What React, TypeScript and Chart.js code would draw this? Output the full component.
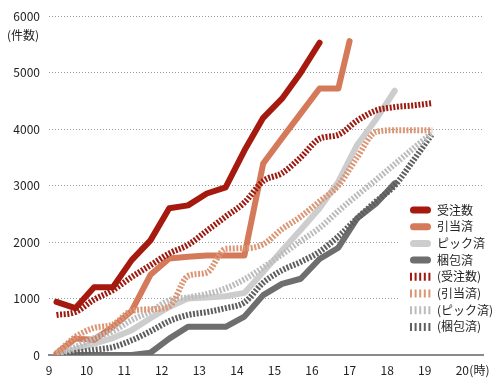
import React, { useEffect, useRef } from 'react';
import { Chart, registerables } from 'chart.js';

Chart.register(...registerables);

const FONT = "'Noto Sans CJK JP', 'Noto Sans', sans-serif";

// x axis ticks (hours) and y axis ticks (件数)
const hourTicks = [9, 10, 11, 12, 13, 14, 15, 16, 17, 18, 19, 20];
const countTicks = [0, 1000, 2000, 3000, 4000, 5000, 6000];
const yUnit = '(件数)';
const xUnit = '(時)';

// sample times (hours)
const halfHours = [9.2, 9.7, 10.2, 10.7, 11.2, 11.7, 12.2, 12.7, 13.2, 13.7, 14.2, 14.7, 15.2, 15.7, 16.2, 16.7, 17.2, 17.7, 18.2, 18.7, 19.2];
const hikiateTimes = [9.2, 9.7, 10.2, 10.7, 11.2, 11.7, 12.2, 12.7, 13.2, 13.7, 14.2, 14.7, 15.2, 15.7, 16.2, 16.7, 17.0];

// actual (solid) series
const juchuActual = [940, 830, 1200, 1200, 1680, 2030, 2600, 2650, 2860, 2970, 3620, 4200, 4540, 5000, 5530];
const hikiateActual = [30, 290, 270, 500, 780, 1420, 1710, 1740, 1760, 1760, 1760, 3390, 3840, 4280, 4720, 4720, 5560];
const pickActual = [20, 100, 200, 300, 440, 650, 850, 1000, 1020, 1040, 1100, 1470, 1850, 2220, 2600, 3070, 3720, 4170, 4680];
const konpoActual = [0, 0, 0, 0, 0, 40, 290, 500, 500, 500, 680, 1060, 1260, 1350, 1700, 1900, 2420, 2680, 3040];

// plan (dashed) series
const juchuPlan = [710, 760, 980, 1150, 1380, 1590, 1800, 1950, 2200, 2450, 2700, 3080, 3220, 3500, 3830, 3900, 4150, 4330, 4390, 4420, 4460];
const hikiatePlan = [30, 320, 480, 540, 780, 810, 860, 1400, 1460, 1880, 1890, 1960, 2230, 2450, 2720, 3000, 3500, 3950, 3980, 3980, 3980];
const pickPlan = [30, 140, 300, 420, 620, 770, 970, 1020, 1080, 1180, 1340, 1550, 1780, 2020, 2250, 2550, 2830, 3100, 3380, 3660, 3940];
const konpoPlan = [0, 40, 90, 140, 260, 420, 600, 710, 760, 830, 930, 1280, 1500, 1650, 1830, 2100, 2420, 2720, 3000, 3450, 3920];

const seriesLabels = ['受注数', '引当済', 'ピック済', '梱包済', '(受注数)', '(引当済)', '(ピック済)', '(梱包済)'];
const seriesColors = ['#a5190f', '#d47a5a', '#cdcdcd', '#6e6e6e', '#9c1a10', '#db9676', '#bcbcbc', '#5e5e5e'];

const X_LABEL_PAD = 8;

function pts(times: number[], vals: number[]) {
  return vals.map((v, i) => ({ x: times[i], y: v }));
}

const extrasPlugin = {
  id: 'extras',
  afterDatasetsDraw(chart: any) {
    const ctx = chart.ctx as CanvasRenderingContext2D;
    const xs = chart.scales.x;
    const ys = chart.scales.y;
    ctx.save();
    ctx.font = `12px ${FONT}`;
    ctx.fillStyle = '#222';
    ctx.textBaseline = 'middle';
    // y unit under top tick
    ctx.textAlign = 'right';
    ctx.fillText(yUnit, ys.right - 10, ys.getPixelForValue(6000) + 19);
    // x unit after "20"
    ctx.textAlign = 'left';
    ctx.fillText(xUnit, xs.getPixelForValue(20) + 7, xs.top + X_LABEL_PAD + 7.2);

    // legend
    ctx.fillStyle = '#ffffff';
    ctx.fillRect(399, 199, 86, 140);
    const ly0 = 210;
    const dy = 16.7;
    seriesLabels.forEach((label, i) => {
      const yy = ly0 + i * dy;
      ctx.save();
      ctx.strokeStyle = seriesColors[i];
      ctx.beginPath();
      if (i < 4) {
        ctx.lineWidth = 7;
        ctx.lineCap = 'round';
        ctx.setLineDash([]);
        ctx.moveTo(413.5, yy);
        ctx.lineTo(427.5, yy);
      } else {
        ctx.lineWidth = 8;
        ctx.lineCap = 'butt';
        ctx.setLineDash([2, 2.6]);
        ctx.moveTo(410, yy);
        ctx.lineTo(432, yy);
      }
      ctx.stroke();
      ctx.restore();
      ctx.fillStyle = '#222';
      ctx.textAlign = 'left';
      ctx.fillText(label, 437, yy);
    });
    ctx.restore();
  },
};

export default function App() {
  const ref = useRef<HTMLCanvasElement | null>(null);

  useEffect(() => {
    document.body.style.margin = '0';
    if (!ref.current) return;
    const solid = (i: number, times: number[], vals: number[]) => ({
      label: seriesLabels[i],
      data: pts(times, vals),
      borderColor: seriesColors[i],
      backgroundColor: seriesColors[i],
      borderWidth: 6,
      borderCapStyle: 'round' as const,
      borderJoinStyle: 'round' as const,
      pointRadius: 0,
      tension: 0,
      order: 2 + i,
    });
    const dashed = (i: number, times: number[], vals: number[]) => ({
      label: seriesLabels[i],
      data: pts(times, vals),
      borderColor: seriesColors[i],
      backgroundColor: seriesColors[i],
      borderWidth: 6,
      borderDash: [2, 1.6],
      borderCapStyle: 'butt' as const,
      borderJoinStyle: 'round' as const,
      pointRadius: 0,
      cubicInterpolationMode: 'monotone' as const,
      order: i - 4,
    });

    const chart = new Chart(ref.current, {
      type: 'line',
      data: {
        datasets: [
          solid(0, halfHours, juchuActual),
          solid(1, hikiateTimes, hikiateActual),
          solid(2, halfHours, pickActual),
          solid(3, halfHours, konpoActual),
          dashed(4, halfHours, juchuPlan),
          dashed(5, halfHours, hikiatePlan),
          dashed(6, halfHours, pickPlan),
          dashed(7, halfHours, konpoPlan),
        ] as any,
      },
      options: {
        animation: false,
        responsive: false,
        devicePixelRatio: 1,
        layout: { padding: { top: 15, right: 17, left: 0, bottom: 0 } },
        plugins: { legend: { display: false }, tooltip: { enabled: false } },
        scales: {
          x: {
            type: 'linear',
            min: 9,
            max: 20.55,
            afterBuildTicks: (scale: any) => {
              scale.ticks = hourTicks.map((v) => ({ value: v }));
            },
            afterFit: (scale: any) => {
              scale.height = 29;
            },
            grid: { display: false, drawTicks: false },
            border: { display: true, color: '#8a8a8a', width: 2 },
            ticks: {
              padding: X_LABEL_PAD,
              color: '#222',
              font: { family: FONT, size: 12 },
              maxRotation: 0,
              autoSkip: false,
              callback: (v: any) => String(v),
            },
          },
          y: {
            type: 'linear',
            min: 0,
            max: 6000,
            afterBuildTicks: (scale: any) => {
              scale.ticks = countTicks.map((v) => ({ value: v }));
            },
            afterFit: (scale: any) => {
              scale.width = 49;
            },
            grid: { color: '#9c9c9c', lineWidth: 1, drawTicks: false },
            border: { display: false, dash: [1, 2] },
            ticks: {
              padding: 9,
              color: '#222',
              font: { family: FONT, size: 12 },
              callback: (v: any) => String(v),
            },
          },
        },
      },
      plugins: [extrasPlugin],
    });
    return () => chart.destroy();
  }, []);

  return (
    <div style={{ width: 500, height: 384 }}>
      <canvas ref={ref} width={500} height={384} style={{ display: 'block' }} />
    </div>
  );
}
